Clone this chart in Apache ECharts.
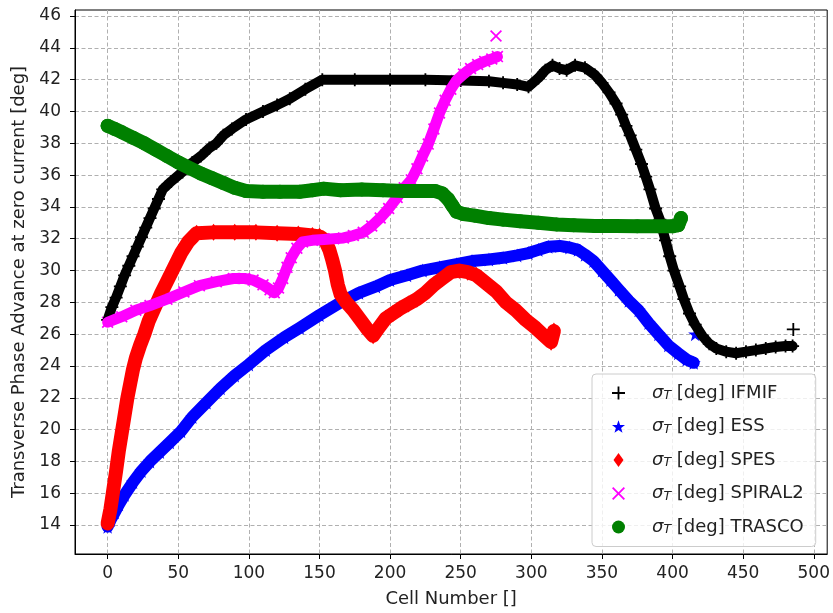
<!DOCTYPE html>
<html>
<head>
<meta charset="utf-8">
<script src="https://cdn.jsdelivr.net/npm/echarts@6/dist/echarts.min.js"></script>
<style>html,body{margin:0;padding:0;background:#fff}#c{width:833px;height:613px}</style>
</head>
<body>
<div id="c"></div>
<script>
// ---- data ----
const xTicks = [0, 50, 100, 150, 200, 250, 300, 350, 400, 450, 500];
const yTicks = [14, 16, 18, 20, 22, 24, 26, 28, 30, 32, 34, 36, 38, 40, 42, 44, 46];

const ifmifCell = [0,3,6,9,12,15,18,21,24,27,30,33,36,39,45,53,60,66,72,77,82,88,98,110,120,129,140,152,175,200,225,250,270,280,290,298,305,310,315,320,325,331,338,345,350,355,360,364,367,370,374,378,381,384,388,391,395,398,401,405,408,412,416,421,426,431,438,445,452,459,466,473,480,485];
const ifmifPhase = [26.9,27.7,28.3,29.0,29.7,30.3,30.9,31.5,32.1,32.7,33.3,33.9,34.5,35.1,35.6,36.2,36.8,37.2,37.7,38.0,38.5,38.9,39.5,40.0,40.4,40.8,41.4,42.0,42.0,42.0,42.0,41.95,41.9,41.8,41.7,41.55,42.1,42.6,42.9,42.7,42.6,42.9,42.75,42.3,41.8,41.2,40.5,39.8,39.1,38.5,37.6,36.7,35.9,35.1,33.9,33.2,31.9,30.9,30.0,29.0,28.2,27.3,26.6,25.9,25.4,25.1,24.9,24.8,24.9,25.0,25.1,25.2,25.25,25.25];
const ifmifExtra = [485.5, 26.3];

const essCell = [0,2,5,8,12,18,24,30,37,44,52,60,70,80,90,100,112,125,136,150,165,178,190,200,212,223,235,247,258,270,280,290,298,305,312,320,327,333,338,344,350,356,362,369,376,383,390,397,404,410,415];
const essPhase = [13.9,14.3,14.8,15.3,15.9,16.7,17.4,18.0,18.6,19.2,19.9,20.8,21.7,22.6,23.4,24.1,25.0,25.8,26.4,27.2,28.0,28.6,29.0,29.4,29.7,30.0,30.2,30.4,30.6,30.7,30.8,30.95,31.1,31.3,31.5,31.55,31.45,31.3,31.0,30.6,30.0,29.4,28.8,28.1,27.5,26.7,26.0,25.3,24.8,24.4,24.2];
const essExtra = [416, 26.0];

const spesCell = [0,2,4,6,8,10,12,14,16,18,20,23,26,29,33,38,42,47,52,57,63,75,90,105,120,135,145,150,154,157,159,161,163,165,169,174,179,184,188,192,197,202,207,213,219,225,231,237,243,249,255,261,268,275,282,289,296,303,309,314,316];
const spesPhase = [14.1,15.0,16.2,17.4,18.7,19.8,20.9,22.0,22.9,23.8,24.5,25.3,26.0,26.8,27.6,28.6,29.3,30.2,31.1,31.8,32.35,32.4,32.4,32.4,32.35,32.3,32.2,32.15,31.9,31.3,30.7,30.0,29.1,28.5,28.0,27.5,26.9,26.3,25.9,26.4,27.0,27.3,27.6,27.9,28.2,28.6,29.1,29.5,29.9,30.0,29.9,29.7,29.2,28.7,28.0,27.5,26.9,26.4,25.9,25.5,26.2];

const spiralCell = [0,10,20,30,42,54,65,77,89,97,103,110,115,118,121,124,127,130,134,138,145,153,160,167,174,181,187,193,199,205,210,215,219,223,227,231,235,239,243,247,252,257,262,267,272,276];
const spiralPhase = [26.75,27.1,27.5,27.8,28.2,28.65,29.05,29.3,29.5,29.5,29.4,29.1,28.8,28.6,28.9,29.5,30.2,30.8,31.4,31.8,31.9,31.95,32.0,32.05,32.2,32.4,32.8,33.3,33.9,34.6,35.2,35.7,36.4,37.2,37.95,38.9,39.9,40.7,41.4,41.95,42.35,42.7,42.95,43.15,43.3,43.45];
const spiralExtra = [275, 44.75];

const trascoCell = [0,5,10,18,26,34,42,50,58,66,74,82,90,98,110,122,136,145,153,165,180,195,210,222,232,237,241,244,247,252,260,270,280,292,305,318,330,345,360,375,390,400,404,406];
const trascoPhase = [39.1,38.9,38.7,38.35,38.0,37.6,37.2,36.8,36.45,36.1,35.8,35.5,35.2,35.0,34.95,34.95,34.95,35.05,35.15,35.05,35.1,35.05,35.0,35.0,35.0,34.85,34.5,34.1,33.7,33.55,33.45,33.3,33.2,33.1,33.0,32.9,32.85,32.8,32.8,32.78,32.78,32.78,32.85,33.3];

const names = ['IFMIF', 'ESS', 'SPES', 'SPIRAL2', 'TRASCO'];
// ---- end data ----

const zip = (a, b) => a.map((v, i) => [v, b[i]]);

const plusPath = 'path://M4.3,0H5.7V4.3H10V5.7H5.7V10H4.3V5.7H0V4.3H4.3Z';
const crossPath = 'path://M0,1L1,0L5,4L9,0L10,1L6,5L10,9L9,10L5,6L1,10L0,9L4,5Z';
const starPath = 'path://M5,0L6.18,3.38L9.76,3.45L6.9,5.62L7.94,9.05L5,7L2.06,9.05L3.1,5.62L0.24,3.45L3.82,3.38Z';
const diamondPath = 'path://M5,0L10,7L5,14L0,7Z';

const specs = [
  {name: names[0], cell: ifmifCell, val: ifmifPhase, extra: [ifmifExtra], color: '#000000', sym: plusPath, size: 13, lw: 10},
  {name: names[1], cell: essCell, val: essPhase, extra: [essExtra], color: '#0000ff', sym: starPath, size: 14, lw: 12},
  {name: names[2], cell: spesCell, val: spesPhase, extra: [], color: '#ff0000', sym: diamondPath, size: [12, 17], lw: 14},
  {name: names[3], cell: spiralCell, val: spiralPhase, extra: [spiralExtra], color: '#ff00ff', sym: crossPath, size: 12, lw: 11},
  {name: names[4], cell: trascoCell, val: trascoPhase, extra: [], color: '#008000', sym: 'circle', size: 14, lw: 14}
];

const series = [];
specs.forEach(s => {
  const pts = zip(s.cell, s.val);
  series.push({
    type: 'line', name: s.name + '_band', data: pts, showSymbol: false, silent: true,
    lineStyle: {color: s.color, width: s.lw, cap: 'round', join: 'round'}
  });
  series.push({
    type: 'scatter', name: s.name, data: pts.concat(s.extra), symbol: s.sym, symbolSize: s.size,
    itemStyle: {color: s.color, opacity: 1}, silent: true
  });
});

const FONT = 'DejaVu Sans';
const FS = 17;   // tick labels
const FN = 18;   // axis names and legend
const chart = echarts.init(document.getElementById('c'), null, {renderer: 'canvas'});
chart.setOption({
  animation: false,
  backgroundColor: '#ffffff',
  textStyle: {fontFamily: FONT},
  grid: {left: 75, right: 5, top: 10, bottom: 57, show: true, borderColor: '#000', borderWidth: 1, containLabel: false},
  xAxis: {
    type: 'value', min: -23.1, max: 509.5,
    name: 'Cell Number []', nameLocation: 'middle', nameGap: 36,
    nameTextStyle: {fontFamily: FONT, fontSize: FN, color: '#222'},
    axisLine: {show: true, onZero: false, lineStyle: {color: '#000', width: 1}},
    axisTick: {show: true, customValues: xTicks, length: 5, inside: false, lineStyle: {color: '#000'}},
    axisLabel: {customValues: xTicks, fontFamily: FONT, fontSize: FS, color: '#222', margin: 11},
    splitLine: {show: true, lineStyle: {color: '#b0b0b0', type: [4, 2.5], width: 1}}
  },
  yAxis: {
    type: 'value', min: 12.18, max: 46.38,
    name: 'Transverse Phase Advance at zero current [deg]', nameLocation: 'middle', nameGap: 46,
    nameTextStyle: {fontFamily: FONT, fontSize: FN, color: '#222'},
    axisLine: {show: true, onZero: false, lineStyle: {color: '#000', width: 1}},
    axisTick: {show: true, customValues: yTicks, length: 5, inside: false, lineStyle: {color: '#000'}},
    axisLabel: {customValues: yTicks, fontFamily: FONT, fontSize: FS, color: '#222', margin: 14},
    splitLine: {show: true, lineStyle: {color: '#b0b0b0', type: [4, 2.5], width: 1}}
  },
  legend: {
    orient: 'vertical', left: 592, top: 374,
    backgroundColor: 'rgba(255,255,255,0.8)', borderColor: '#cccccc', borderWidth: 1, borderRadius: 4,
    padding: [10, 12, 10, 20],
    itemWidth: 13, itemHeight: 14, itemGap: 15,
    data: [
      {name: names[0], icon: plusPath},
      {name: names[1], icon: starPath},
      {name: names[2], icon: diamondPath},
      {name: names[3], icon: crossPath},
      {name: names[4], icon: 'circle'}
    ],
    formatter: n => '{g|σ}{s|T}{t| [deg] ' + n + '}',
    textStyle: {
      fontFamily: FONT, fontSize: FN, color: '#222', padding: [0, 0, 0, 22],
      rich: {
        g: {fontFamily: FONT, fontSize: FN, fontStyle: 'italic', color: '#222', lineHeight: 19},
        s: {fontFamily: FONT, fontSize: 12.5, fontStyle: 'italic', color: '#222', lineHeight: 13, verticalAlign: 'bottom'},
        t: {fontFamily: FONT, fontSize: FN, color: '#222', lineHeight: 19}
      }
    }
  },
  series: series
});
</script>
</body>
</html>
